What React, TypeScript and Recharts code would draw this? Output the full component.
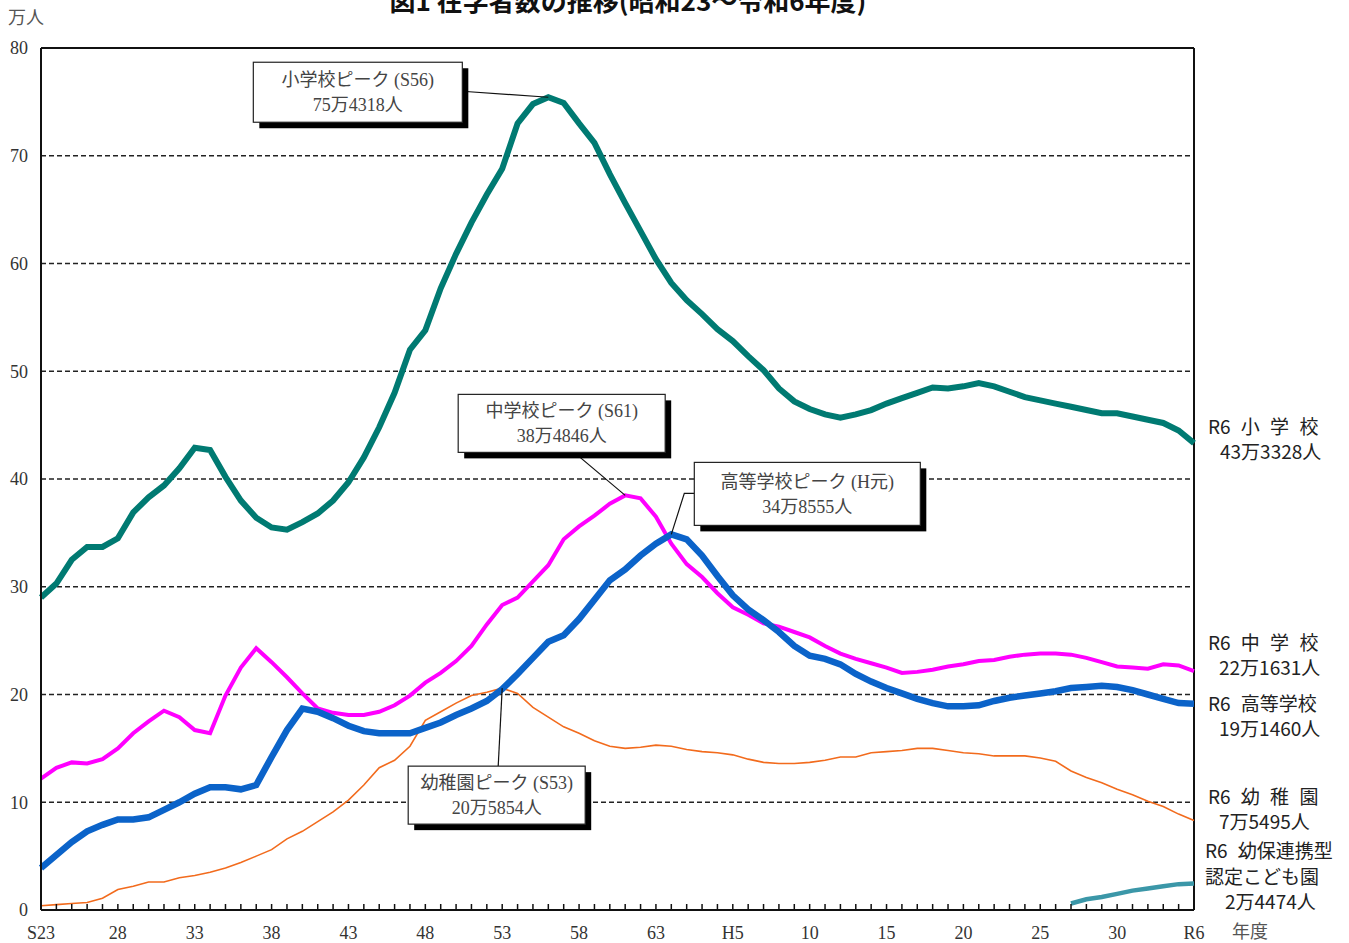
import { LineChart, Line, XAxis, YAxis, CartesianGrid, ReferenceLine, ReferenceDot } from 'recharts'

// 76 fiscal years as drawn on the axis (S23 .. S63, H1 .. H30, R2 .. R6)
const categories: string[] = []
for (let y = 23; y <= 63; y++) categories.push(`S${y}`)
for (let y = 1; y <= 30; y++) categories.push(`H${y}`)
for (let y = 2; y <= 6; y++) categories.push(`R${y}`)

const tickLabels: Record<string, string> = {
  S23: 'S23', S28: '28', S33: '33', S38: '38', S43: '43', S48: '48', S53: '53', S58: '58', S63: '63',
  H5: 'H5', H10: '10', H15: '15', H20: '20', H25: '25', H30: '30', R6: 'R6'
}

const yTicks = [0, 10, 20, 30, 40, 50, 60, 70, 80]

// 万人
const elementary = [
  29.0, 30.3, 32.5, 33.7, 33.7, 34.5, 36.9, 38.3, 39.4, 41.0,
  42.9, 42.7, 40.2, 38.0, 36.4, 35.5, 35.3, 36.0, 36.8, 38.0,
  39.7, 42.0, 44.8, 48.0, 52.0, 53.8, 57.7, 60.9, 63.8, 66.4,
  68.8, 73.0, 74.8, 75.43, 74.9, 73.0, 71.2, 68.3, 65.6, 63.0,
  60.4, 58.2, 56.6, 55.3, 53.9, 52.8, 51.4, 50.1, 48.4, 47.2,
  46.5, 46.0, 45.7, 46.0, 46.4, 47.0, 47.5, 48.0, 48.5, 48.4,
  48.6, 48.9, 48.6, 48.1, 47.6, 47.3, 47.0, 46.7, 46.4, 46.1,
  46.1, 45.8, 45.5, 45.2, 44.5, 43.33
]

const juniorHigh = [
  12.2, 13.2, 13.7, 13.6, 14.0, 15.0, 16.4, 17.5, 18.5, 17.9,
  16.7, 16.4, 19.9, 22.5, 24.3, 23.0, 21.6, 20.1, 18.7, 18.3,
  18.1, 18.1, 18.4, 19.0, 19.9, 21.1, 22.0, 23.1, 24.5, 26.5,
  28.3, 29.0, 30.5, 32.0, 34.4, 35.6, 36.6, 37.7, 38.48, 38.2,
  36.5, 34.0, 32.1, 30.9, 29.4, 28.1, 27.4, 26.6, 26.3, 25.8,
  25.3, 24.5, 23.8, 23.3, 22.9, 22.5, 22.0, 22.1, 22.3, 22.6,
  22.8, 23.1, 23.2, 23.5, 23.7, 23.8, 23.8, 23.7, 23.4, 23.0,
  22.6, 22.5, 22.4, 22.8, 22.7, 22.16
]

const highSchool = [
  3.9, 5.1, 6.3, 7.3, 7.9, 8.4, 8.4, 8.6, 9.3, 10.0,
  10.8, 11.4, 11.4, 11.2, 11.6, 14.2, 16.7, 18.7, 18.4, 17.8,
  17.1, 16.6, 16.4, 16.4, 16.4, 16.9, 17.4, 18.1, 18.7, 19.4,
  20.5, 21.9, 23.4, 24.9, 25.5, 27.0, 28.8, 30.6, 31.6, 32.9,
  34.0, 34.86, 34.4, 32.9, 31.0, 29.2, 27.9, 26.9, 25.8, 24.5,
  23.6, 23.3, 22.8, 21.9, 21.2, 20.6, 20.1, 19.6, 19.2, 18.9,
  18.9, 19.0, 19.4, 19.7, 19.9, 20.1, 20.3, 20.6, 20.7, 20.8,
  20.7, 20.4, 20.0, 19.6, 19.2, 19.15
]

const kindergarten = [
  0.4, 0.5, 0.6, 0.7, 1.1, 1.9, 2.2, 2.6, 2.6, 3.0,
  3.2, 3.5, 3.9, 4.4, 5.0, 5.6, 6.6, 7.3, 8.2, 9.1,
  10.2, 11.6, 13.2, 13.9, 15.2, 17.6, 18.4, 19.2, 19.9, 20.2,
  20.59, 20.1, 18.8, 17.9, 17.0, 16.4, 15.7, 15.2, 15.0, 15.1,
  15.3, 15.2, 14.9, 14.7, 14.6, 14.4, 14.0, 13.7, 13.6, 13.6,
  13.7, 13.9, 14.2, 14.2, 14.6, 14.7, 14.8, 15.0, 15.0, 14.8,
  14.6, 14.5, 14.3, 14.3, 14.3, 14.1, 13.8, 12.9, 12.3, 11.8,
  11.2, 10.7, 10.1, 9.6, 8.9, 8.3
]

// 幼保連携型認定こども園, from H27
const kodomoStart = 'H27'
const kodomo = [0.6, 1.0, 1.2, 1.5, 1.8, 2.0, 2.2, 2.4, 2.45]

const COLORS = {
  elementary: '#007A72',
  juniorHigh: '#FF00FF',
  highSchool: '#0B63C9',
  kindergarten: '#F26B1D',
  kodomo: '#3B97A8'
}

const SERIF = "'Liberation Serif', 'Noto Sans CJK JP', serif"
const GOTHIC = "'Noto Sans CJK JP', sans-serif"

const kStart = categories.indexOf(kodomoStart)
const data = categories.map((year, i) => ({
  year,
  elementary: elementary[i],
  juniorHigh: juniorHigh[i],
  highSchool: highSchool[i],
  kindergarten: kindergarten[i],
  kodomo: i >= kStart ? kodomo[i - kStart] : null
}))

const XTick = ({ x, y, payload }: any) => {
  const label = tickLabels[payload.value]
  return (
    <g>
      <line x1={x} y1={y} x2={x} y2={y - 6} stroke="#111" strokeWidth={1.5} />
      {label && (
        <text x={x} y={y + 29} textAnchor="middle" fontFamily={SERIF} fontSize={18} fill="#333">
          {label}
        </text>
      )}
    </g>
  )
}

// peak callout box with drop shadow, positioned relative to the peak point
const makeCallout = (lines: string[], box: { dx: number; dy: number; w: number; h: number }, path: number[][]) =>
  (p: any) => {
    const { cx, cy } = p
    const bx = cx + box.dx
    const by = cy + box.dy
    const pts = [...path.map(([dx, dy]) => `${cx + dx},${cy + dy}`), `${cx},${cy}`].join(' ')
    return (
      <g>
        <polyline points={pts} fill="none" stroke="#111" strokeWidth={1.2} />
        <rect x={bx + 6} y={by + 6} width={box.w} height={box.h} fill="#000" />
        <rect x={bx} y={by} width={box.w} height={box.h} fill="#fff" stroke="#222" strokeWidth={1.2} />
        <text x={bx + box.w / 2} y={by + box.h / 2 - 6} textAnchor="middle" fontFamily={SERIF} fontSize={18} fill="#444">
          {lines[0]}
        </text>
        <text x={bx + box.w / 2} y={by + box.h / 2 + 19} textAnchor="middle" fontFamily={SERIF} fontSize={18} fill="#444">
          {lines[1]}
        </text>
      </g>
    )
  }

const endLabels = [
  { x: 1208, y: 434, text: 'R6 小 学 校' },
  { x: 1220, y: 459, text: '43万3328人' },
  { x: 1208, y: 650, text: 'R6 中 学 校' },
  { x: 1219, y: 675, text: '22万1631人' },
  { x: 1208, y: 711, text: 'R6 高等学校' },
  { x: 1219, y: 736, text: '19万1460人' },
  { x: 1208, y: 804, text: 'R6 幼 稚 園' },
  { x: 1219, y: 829, text: '7万5495人' },
  { x: 1205, y: 858, text: 'R6 幼保連携型' },
  { x: 1205, y: 884, text: '認定こども園' },
  { x: 1225, y: 909, text: '2万4474人' }
]

export default function App() {
  return (
    <div style={{ position: 'absolute', left: 0, top: 0, width: 1349, height: 943, background: '#fff' }}>
      <LineChart width={1349} height={943} data={data} margin={{ top: 48, right: 155, bottom: 3, left: 0 }}>
        <CartesianGrid vertical={false} stroke="#222" strokeDasharray="5 3" strokeWidth={1.3} />
        <XAxis
          dataKey="year"
          height={30}
          interval={0}
          tickLine={false}
          tickSize={0}
          tickMargin={0}
          tick={<XTick />}
          axisLine={{ stroke: '#111', strokeWidth: 2 }}
        />
        <YAxis
          width={41}
          domain={[0, 80]}
          ticks={yTicks}
          tickLine={false}
          tickSize={0}
          tickMargin={13}
          axisLine={{ stroke: '#111', strokeWidth: 2 }}
          tick={{ fontSize: 18, fill: '#333', fontFamily: SERIF }}
        />
        <ReferenceLine y={80} stroke="#111" strokeWidth={2} />
        <ReferenceLine x="R6" stroke="#111" strokeWidth={2} />
        <Line dataKey="kindergarten" type="linear" stroke={COLORS.kindergarten} strokeWidth={1.6} dot={false} isAnimationActive={false} />
        <Line dataKey="juniorHigh" type="linear" stroke={COLORS.juniorHigh} strokeWidth={4} dot={false} isAnimationActive={false} />
        <Line dataKey="highSchool" type="linear" stroke={COLORS.highSchool} strokeWidth={6.5} dot={false} isAnimationActive={false} />
        <Line dataKey="elementary" type="linear" stroke={COLORS.elementary} strokeWidth={6} dot={false} isAnimationActive={false} />
        <Line dataKey="kodomo" type="linear" stroke={COLORS.kodomo} strokeWidth={4.5} dot={false} connectNulls={false} isAnimationActive={false} />
        <ReferenceDot
          x="S56" y={75.43} r={0}
          shape={makeCallout(['小学校ピーク (S56)', '75万4318人'], { dx: -295, dy: -35, w: 209, h: 60 }, [[-86, -6]])}
        />
        <ReferenceDot
          x="S61" y={38.48} r={0}
          shape={makeCallout(['中学校ピーク (S61)', '38万4846人'], { dx: -167, dy: -101, w: 207, h: 58 }, [[-51, -43]])}
        />
        <ReferenceDot
          x="H1" y={34.86} r={0}
          shape={makeCallout(['高等学校ピーク (H元)', '34万8555人'], { dx: 23, dy: -72, w: 226, h: 63 }, [[23, -41], [13, -41]])}
        />
        <ReferenceDot
          x="S53" y={20.59} r={0}
          shape={makeCallout(['幼稚園ピーク (S53)', '20万5854人'], { dx: -94, dy: 78, w: 177, h: 58 }, [[-4, 78]])}
        />
      </LineChart>
      <svg width={1349} height={943} style={{ position: 'absolute', left: 0, top: 0, pointerEvents: 'none' }}>
        <text x={628} y={11} textAnchor="middle" fontFamily={GOTHIC} fontWeight={700} fontSize={26} fill="#111">
          図1 在学者数の推移(昭和23〜令和6年度)
        </text>
        <text x={8} y={24} fontFamily={SERIF} fontSize={18} fill="#555">万人</text>
        <text x={1232} y={938} fontFamily={SERIF} fontSize={18} fill="#555">年度</text>
        {endLabels.map((l, i) => (
          <text key={i} x={l.x} y={l.y} fontFamily={GOTHIC} fontSize={19} wordSpacing={6} fill="#222">{l.text}</text>
        ))}
      </svg>
    </div>
  )
}
